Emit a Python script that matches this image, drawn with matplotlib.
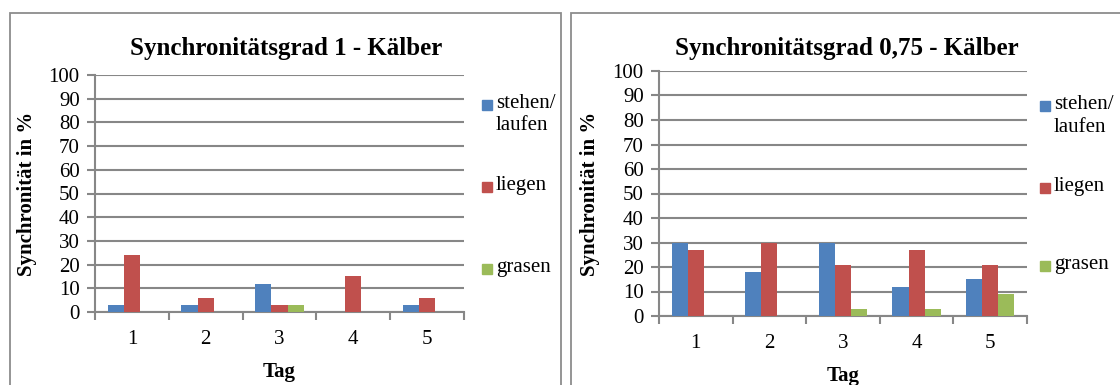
import matplotlib.pyplot as plt
import numpy as np
from matplotlib.patches import Rectangle

plt.rcParams["font.family"] = ["Liberation Serif", "DejaVu Serif"]

W, H = 1120, 385

days = ["1", "2", "3", "4", "5"]
series_names = ["stehen/\nlaufen", "liegen", "grasen"]
colors = ["#4F81BD", "#C0504D", "#9BBB59"]

# Synchronitätsgrad 1
grad1_stehen = [3, 3, 12, 0, 3]
grad1_liegen = [24, 6, 3, 15, 6]
grad1_grasen = [0, 0, 3, 0, 0]

# Synchronitätsgrad 0,75
grad075_stehen = [30, 18, 30, 12, 15]
grad075_liegen = [27, 30, 21, 27, 21]
grad075_grasen = [0, 0, 3, 3, 9]

GRID = "#878787"


def px_axes(fig, x0, x1, ytop, ybot):
    return fig.add_axes([x0 / W, (H - ybot) / H, (x1 - x0) / W, (ybot - ytop) / H])


def draw_panel(fig, box, plot, title, title_x, ylab_x, legend_x, legend_y, values):
    # outer chart frame, open at the bottom
    bx0, bx1, by = box
    fig.add_artist(Rectangle((bx0 / W, -0.1), (bx1 - bx0) / W, 1.1 - by / H,
                             transform=fig.transFigure, fill=False,
                             edgecolor="#8c8c8c", linewidth=1.3))

    ax = px_axes(fig, *plot)
    x = np.arange(len(days))
    w = 0.22
    for i, vals in enumerate(values):
        ax.bar(x + (i - 1) * w, vals, width=w, color=colors[i],
               edgecolor="none", zorder=3)

    ax.set_xlim(-0.5, len(days) - 0.5)
    ax.set_ylim(0, 100)
    ax.set_yticks(range(0, 101, 10))
    ax.yaxis.grid(True, color=GRID, linewidth=1.5, zorder=0)
    ax.set_xticks(x)
    ax.set_xticklabels(days)
    ax.set_xticks(np.arange(-0.5, len(days)), minor=True)
    ax.tick_params(axis="x", which="major", length=0, pad=13, labelsize=15)
    ax.tick_params(axis="x", which="minor", length=6, width=1.5, color=GRID)
    ax.tick_params(axis="y", length=6, width=1.5, color=GRID, labelsize=15, pad=5)
    for s in ("top", "right"):
        ax.spines[s].set_visible(False)
    for s in ("left", "bottom"):
        ax.spines[s].set_color(GRID)
        ax.spines[s].set_linewidth(1.5)

    fig.text(title_x / W, 1 - 49 / H, title, ha="center", va="center",
             fontsize=18, fontweight="bold")
    fig.text(ylab_x / W, 1 - (plot[2] + plot[3]) / 2 / H, "Synchronität in %",
             rotation=90, ha="center", va="center", fontsize=15, fontweight="bold")
    fig.text((plot[0] + plot[1]) / 2 / W, 1 - (plot[3] + 60) / H, "Tag",
             ha="center", va="center", fontsize=15, fontweight="bold")

    for i, name in enumerate(series_names):
        ym = legend_y[i]
        fig.add_artist(Rectangle((legend_x / W, 1 - (ym + 5) / H), 10 / W, 10 / H,
                                 transform=fig.transFigure, color=colors[i]))
        fig.text((legend_x + 14) / W, 1 - (ym - 11) / H, name, ha="left", va="top",
                 fontsize=15, linespacing=1.25)
    return ax


fig = plt.figure(figsize=(W / 100, H / 100), dpi=100)

draw_panel(fig, (10, 561, 13), (95, 464, 75, 312),
           "Synchronitätsgrad 1 - Kälber", 286, 27, 482, [105, 187, 269],
           [grad1_stehen, grad1_liegen, grad1_grasen])
draw_panel(fig, (571, 1130, 13), (659, 1027, 71, 316),
           "Synchronitätsgrad 0,75 - Kälber", 847, 590, 1040, [106, 188, 266],
           [grad075_stehen, grad075_liegen, grad075_grasen])

fig.savefig("out.png", dpi=100, facecolor="white")
